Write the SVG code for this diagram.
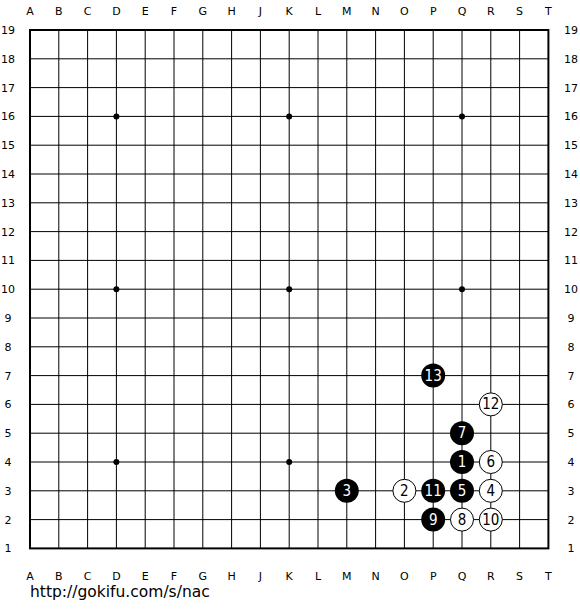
<svg xmlns="http://www.w3.org/2000/svg" width="580" height="610" viewBox="0 0 580 610">
<style>
.g{stroke:#000;stroke-width:1;fill:none}
.lbl{font-family:"DejaVu Sans",Verdana,sans-serif;font-size:11px;fill:#000;text-anchor:middle}
.b circle{fill:#000}
.w circle{fill:#fff;stroke:#000;stroke-width:1}
.b text{fill:#fff}
.w text{fill:#000}
.n{font-family:"DejaVu Sans Condensed","DejaVu Sans",sans-serif;font-size:15px;text-anchor:middle;dominant-baseline:central}
</style>
<rect width="580" height="610" fill="#fff"/>
<g id="grid" class="g">
<path d="M58.8 30V548.4M87.6 30V548.4M116.4 30V548.4M145.2 30V548.4M174 30V548.4M202.8 30V548.4M231.6 30V548.4M260.4 30V548.4M289.2 30V548.4M318 30V548.4M346.8 30V548.4M375.6 30V548.4M404.4 30V548.4M433.2 30V548.4M462 30V548.4M490.8 30V548.4M519.6 30V548.4"/>
<path d="M30 58.8H548.4M30 87.6H548.4M30 116.4H548.4M30 145.2H548.4M30 174H548.4M30 202.8H548.4M30 231.6H548.4M30 260.4H548.4M30 289.2H548.4M30 318H548.4M30 346.8H548.4M30 375.6H548.4M30 404.4H548.4M30 433.2H548.4M30 462H548.4M30 490.8H548.4M30 519.6H548.4"/>
<rect x="30" y="30" width="518.4" height="518.4" stroke-width="2"/>
</g>
<g id="stars" fill="#000">
<circle cx="116.4" cy="116.4" r="3"/><circle cx="289.2" cy="116.4" r="3"/><circle cx="462" cy="116.4" r="3"/>
<circle cx="116.4" cy="289.2" r="3"/><circle cx="289.2" cy="289.2" r="3"/><circle cx="462" cy="289.2" r="3"/>
<circle cx="116.4" cy="462" r="3"/><circle cx="289.2" cy="462" r="3"/><circle cx="462" cy="462" r="3"/>
</g>
<g id="coords" class="lbl">
<text x="30" y="15">A</text><text x="58.8" y="15">B</text><text x="87.6" y="15">C</text><text x="116.4" y="15">D</text><text x="145.2" y="15">E</text><text x="174" y="15">F</text><text x="202.8" y="15">G</text><text x="231.6" y="15">H</text><text x="260.4" y="15">J</text><text x="289.2" y="15">K</text><text x="318" y="15">L</text><text x="346.8" y="15">M</text><text x="375.6" y="15">N</text><text x="404.4" y="15">O</text><text x="433.2" y="15">P</text><text x="462" y="15">Q</text><text x="490.8" y="15">R</text><text x="519.6" y="15">S</text><text x="548.4" y="15">T</text>
<text x="30" y="580">A</text><text x="58.8" y="580">B</text><text x="87.6" y="580">C</text><text x="116.4" y="580">D</text><text x="145.2" y="580">E</text><text x="174" y="580">F</text><text x="202.8" y="580">G</text><text x="231.6" y="580">H</text><text x="260.4" y="580">J</text><text x="289.2" y="580">K</text><text x="318" y="580">L</text><text x="346.8" y="580">M</text><text x="375.6" y="580">N</text><text x="404.4" y="580">O</text><text x="433.2" y="580">P</text><text x="462" y="580">Q</text><text x="490.8" y="580">R</text><text x="519.6" y="580">S</text><text x="548.4" y="580">T</text>
<text x="8" y="34">19</text><text x="8" y="62.8">18</text><text x="8" y="91.6">17</text><text x="8" y="120.4">16</text><text x="8" y="149.2">15</text><text x="8" y="178">14</text><text x="8" y="206.8">13</text><text x="8" y="235.6">12</text><text x="8" y="264.4">11</text><text x="8" y="293.2">10</text><text x="8" y="322">9</text><text x="8" y="350.8">8</text><text x="8" y="379.6">7</text><text x="8" y="408.4">6</text><text x="8" y="437.2">5</text><text x="8" y="466">4</text><text x="8" y="494.8">3</text><text x="8" y="523.6">2</text><text x="8" y="552.4">1</text>
<text x="571" y="34">19</text><text x="571" y="62.8">18</text><text x="571" y="91.6">17</text><text x="571" y="120.4">16</text><text x="571" y="149.2">15</text><text x="571" y="178">14</text><text x="571" y="206.8">13</text><text x="571" y="235.6">12</text><text x="571" y="264.4">11</text><text x="571" y="293.2">10</text><text x="571" y="322">9</text><text x="571" y="350.8">8</text><text x="571" y="379.6">7</text><text x="571" y="408.4">6</text><text x="571" y="437.2">5</text><text x="571" y="466">4</text><text x="571" y="494.8">3</text><text x="571" y="523.6">2</text><text x="571" y="552.4">1</text>
</g>
<g id="s1" class="b"><circle cx="462" cy="462" r="12"/><text class="n" x="462" y="462">1</text></g>
<g id="s2" class="w"><circle cx="404.4" cy="490.8" r="11.5"/><text class="n" x="404.4" y="490.8">2</text></g>
<g id="s3" class="b"><circle cx="346.8" cy="490.8" r="12"/><text class="n" x="346.8" y="490.8">3</text></g>
<g id="s4" class="w"><circle cx="490.8" cy="490.8" r="11.5"/><text class="n" x="490.8" y="490.8">4</text></g>
<g id="s5" class="b"><circle cx="462" cy="490.8" r="12"/><text class="n" x="462" y="490.8">5</text></g>
<g id="s6" class="w"><circle cx="490.8" cy="462" r="11.5"/><text class="n" x="490.8" y="462">6</text></g>
<g id="s7" class="b"><circle cx="462" cy="433.2" r="12"/><text class="n" x="462" y="433.2">7</text></g>
<g id="s8" class="w"><circle cx="462" cy="519.6" r="11.5"/><text class="n" x="462" y="519.6">8</text></g>
<g id="s9" class="b"><circle cx="433.2" cy="519.6" r="12"/><text class="n" x="433.2" y="519.6">9</text></g>
<g id="s10" class="w"><circle cx="490.8" cy="519.6" r="11.5"/><text class="n" x="490.8" y="519.6">10</text></g>
<g id="s11" class="b"><circle cx="433.2" cy="490.8" r="12"/><text class="n" x="433.2" y="490.8">11</text></g>
<g id="s12" class="w"><circle cx="490.8" cy="404.4" r="11.5"/><text class="n" x="490.8" y="404.4">12</text></g>
<g id="s13" class="b"><circle cx="433.2" cy="375.6" r="12"/><text class="n" x="433.2" y="375.6">13</text></g>
<text x="30" y="597" font-family="DejaVu Sans,Verdana,sans-serif" font-size="15.5">http://gokifu.com/s/nac</text>
</svg>
